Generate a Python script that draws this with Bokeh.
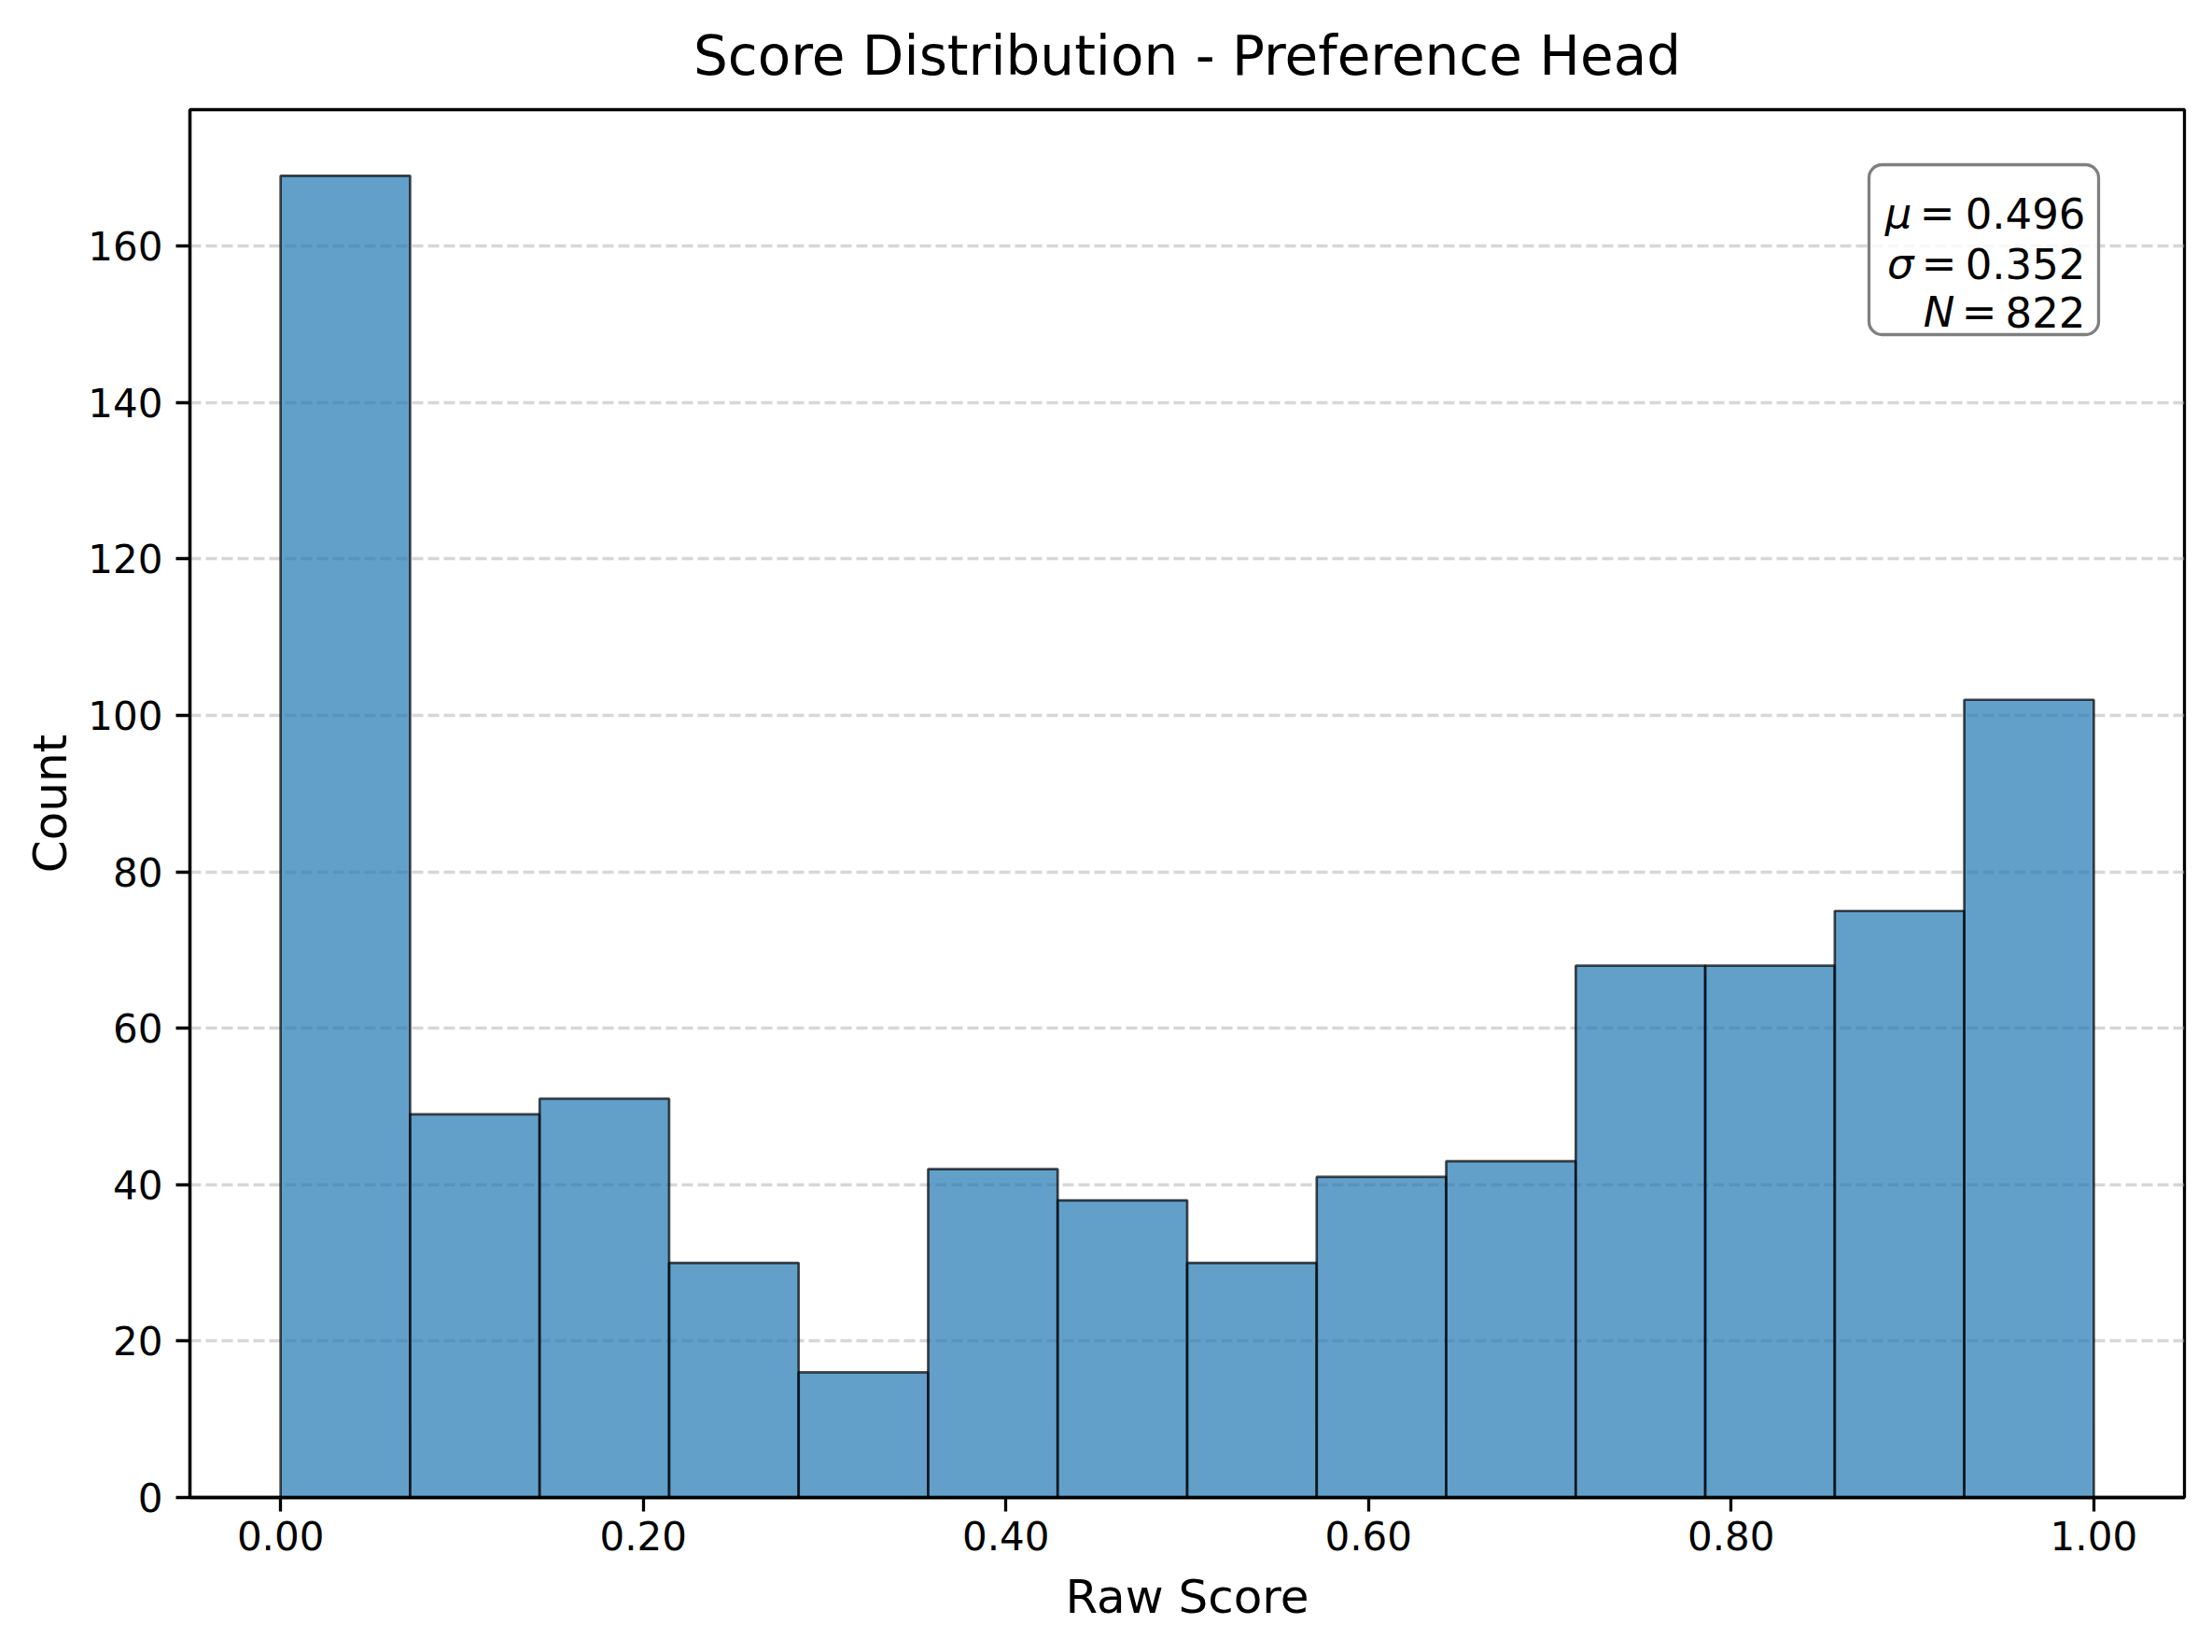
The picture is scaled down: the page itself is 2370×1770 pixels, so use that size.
from bokeh.plotting import figure
from bokeh.models import Range1d, NumeralTickFormatter, FixedTicker, BoxAnnotation, Label
from bokeh.embed import file_html
from bokeh.resources import INLINE
import numpy as np

# ---- data ----
counts = [169, 49, 51, 30, 16, 42, 38, 30, 41, 43, 68, 68, 75, 102]
score_min = 0.0
score_max = 1.0
stat_mu = 0.496
stat_sigma = 0.352
stat_n = 822
x_ticks = [0.0, 0.2, 0.4, 0.6, 0.8, 1.0]
y_ticks = [0, 20, 40, 60, 80, 100, 120, 140, 160]
title_text = "Score Distribution - Preference Head"
x_label = "Raw Score"
y_label = "Count"

n_bins = len(counts)
edges = np.linspace(score_min, score_max, n_bins + 1)

XMIN, XMAX = -0.05, 1.05
YMIN, YMAX = 0, max(counts) * 1.05

FONT = "DejaVu Sans"
W, H = 2362, 1762
FL, FR, FT, FB = 203, 2340, 117, 1604  # frame in figure pixels

p = figure(width=W, height=H, output_backend="svg", toolbar_location=None,
           x_range=Range1d(XMIN, XMAX), y_range=Range1d(YMIN, YMAX),
           min_border_left=FL, min_border_right=W - FR,
           min_border_top=FT, min_border_bottom=H - FB)

p.background_fill_color = "white"
p.border_fill_color = "white"
p.outline_line_color = "black"
p.outline_line_width = 3.3

# title
p.title.text = title_text
p.title.align = "center"
p.title.vertical_align = "top"
p.title.text_font = FONT
p.title.text_font_size = "58px"
p.title.text_font_style = "normal"
p.title.text_color = "black"
p.title.standoff = 44

# grid
p.xgrid.visible = False
p.ygrid.grid_line_color = "#b0b0b0"
p.ygrid.grid_line_alpha = 0.5
p.ygrid.grid_line_width = 3.3
p.ygrid.grid_line_dash = "12 5"
p.ygrid.ticker = FixedTicker(ticks=y_ticks)

for ax in (p.xaxis[0], p.yaxis[0]):
    ax.axis_line_width = 3.3
    ax.axis_line_color = "black"
    ax.major_tick_line_width = 3.3
    ax.major_tick_line_color = "black"
    ax.major_tick_out = 15
    ax.major_tick_in = 0
    ax.minor_tick_line_color = None
    ax.major_label_text_font = FONT
    ax.major_label_text_font_size = "42px"
    ax.major_label_text_color = "black"
    ax.axis_label_text_font = FONT
    ax.axis_label_text_font_size = "50px"
    ax.axis_label_text_font_style = "normal"
    ax.axis_label_text_color = "black"

p.xaxis.ticker = FixedTicker(ticks=x_ticks)
p.xaxis.formatter = NumeralTickFormatter(format="0.00")
p.xaxis.axis_label = x_label
p.xaxis.major_label_standoff = 10
p.xaxis.axis_label_standoff = 18

p.yaxis.ticker = FixedTicker(ticks=y_ticks)
p.yaxis.axis_label = y_label
p.yaxis.major_label_standoff = 14
p.yaxis.axis_label_standoff = 8

# bars
p.quad(left=edges[:-1], right=edges[1:], bottom=0, top=counts,
       fill_color="#1f77b4", fill_alpha=0.7,
       line_color="black", line_alpha=0.7, line_width=2.7)

# ---- pixel helpers for annotation placement ----
def dx(px):
    return XMIN + (px - FL) / (FR - FL) * (XMAX - XMIN)

def dy(py):
    return YMAX - (py - FT) / (FB - FT) * (YMAX - YMIN)

# ---- stats box ----
box = BoxAnnotation(left=dx(2002), right=dx(2248), top=dy(176), bottom=dy(358),
                    fill_color="white", fill_alpha=0.8,
                    line_color="#808080", line_alpha=1.0, line_width=3.3,
                    border_radius=14, level="annotation")
p.add_layout(box)

# (symbol, value text, baseline px, symbol right px, '=' centre px)
lines = [("μ", f"{stat_mu:.3f}", 228, 2046, 2075),
         ("σ", f"{stat_sigma:.3f}", 282, 2048, 2077),
         ("N", f"{stat_n}", 334, 2092, 2120)]
for sym, num, base, sym_right, eq_c in lines:
    p.add_layout(Label(x=dx(2234), y=dy(base), text=num, text_align="right",
                       text_baseline="alphabetic", text_font=FONT,
                       text_font_size="45px", text_color="black"))
    p.add_layout(Label(x=dx(eq_c), y=dy(base), text="=", text_align="center",
                       text_baseline="alphabetic", text_font=FONT,
                       text_font_size="45px", text_color="black"))
    p.add_layout(Label(x=dx(sym_right + 2), y=dy(base), text=sym, text_align="right",
                       text_baseline="alphabetic", text_font=FONT,
                       text_font_style="italic",
                       text_font_size="45px", text_color="black"))

open("out.html", "w").write(file_html(p, INLINE))
